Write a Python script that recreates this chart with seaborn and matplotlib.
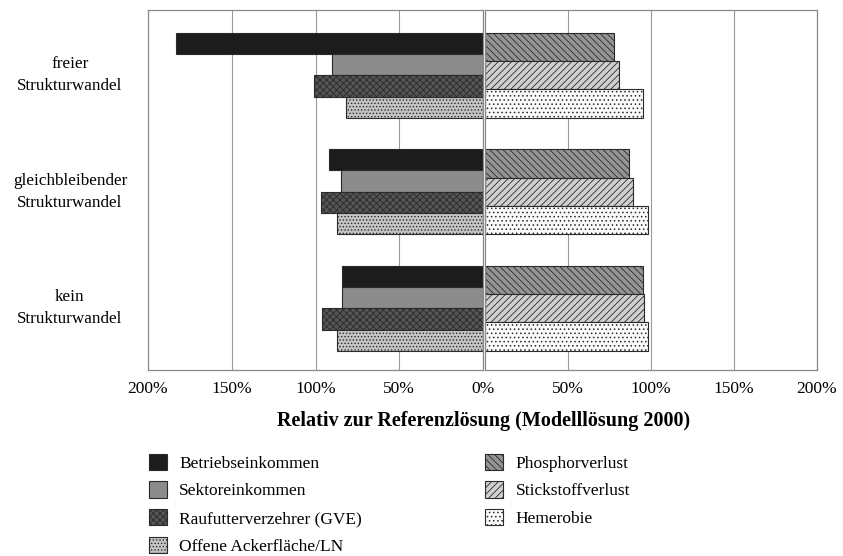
import pandas as pd
import matplotlib.pyplot as plt
import seaborn as sns
from matplotlib.patches import Patch

# scenarios (rows) and the two indicator groups
szenarien = ['freier\nStrukturwandel', 'gleichbleibender\nStrukturwandel', 'kein\nStrukturwandel']
oekonomie = ['Betriebseinkommen', 'Sektoreinkommen', 'Raufutterverzehrer (GVE)', 'Offene Ackerfläche/LN']
oekologie = ['Phosphorverlust', 'Stickstoffverlust', 'Hemerobie']

# values in % relative to reference solution, one list per indicator
betriebseinkommen = [183, 92, 84]
sektoreinkommen = [90, 85, 84]
raufutter = [101, 97, 96]
ackerflaeche = [82, 87, 87]
phosphor = [78, 87, 95]
stickstoff = [81, 89, 96]
hemerobie = [95, 98, 98]

ticks_links = [200, 150, 100, 50, 0]
ticks_rechts = [50, 100, 150, 200]

df_l = pd.DataFrame({
    'szenario': szenarien * 4,
    'indikator': [i for i in oekonomie for _ in szenarien],
    'wert': betriebseinkommen + sektoreinkommen + raufutter + ackerflaeche})
df_r = pd.DataFrame({
    'szenario': szenarien * 3,
    'indikator': [i for i in oekologie for _ in szenarien],
    'wert': phosphor + stickstoff + hemerobie})

# (facecolor, hatch) per indicator
stil_l = [('#1c1c1c', ''), ('#8c8c8c', ''), ('#555555', 'xxxxx'), ('#c4c4c4', '.....')]
stil_r = [('#949494', '\\\\\\\\\\'), ('#d0d0d0', '/////'), ('#fafafa', '....')]

serif = 'Liberation Serif'
plt.rcParams['hatch.linewidth'] = 0.6
plt.rcParams['font.family'] = serif

fig = plt.figure(figsize=(8.43, 5.56), dpi=100)
fig.patch.set_facecolor('white')
axL = fig.add_axes([148/843, 1-370/556, 335/843, 360/556])
axR = fig.add_axes([485/843, 1-370/556, 332/843, 360/556])

sns.barplot(data=df_l, y='szenario', x='wert', hue='indikator', orient='h', width=0.73,
            ax=axL, palette=['#888']*4, legend=False, saturation=1)
sns.barplot(data=df_r, y='szenario', x='wert', hue='indikator', orient='h', width=0.73,
            ax=axR, palette=['#888']*3, legend=False, saturation=1)

for ax, stile in [(axL, stil_l), (axR, stil_r)]:
    for cont, (fc, h) in zip(ax.containers, stile):
        for p in cont:
            p.set_facecolor(fc)
            p.set_hatch(h)
            p.set_edgecolor('#2a2a2a')
            p.set_linewidth(0.8)
    ax.set_ylim(2.53, -0.56)
    ax.set_xlabel('')
    ax.set_ylabel('')
    ax.set_facecolor('white')
    for s in ax.spines.values():
        s.set_color('#8a8a8a')
        s.set_linewidth(0.9)
    ax.tick_params(axis='both', length=0, labelsize=12.5)
    ax.grid(axis='x', color='#9a9a9a', linewidth=0.8)
    ax.set_axisbelow(True)

axL.set_xlim(200, 0)
axR.set_xlim(0, 200)
axL.set_xticks(ticks_links)
axL.set_xticklabels([f'{t}%' for t in ticks_links], family=serif)
axR.set_xticks(ticks_rechts)
axR.set_xticklabels([f'{t}%' for t in ticks_rechts], family=serif)
axL.set_yticks(range(3))
axL.set_yticklabels([])
axR.set_yticks([])
for i, s in enumerate(szenarien):
    axL.text(-0.233, i, s, transform=axL.get_yaxis_transform(), ha='center', va='center',
             fontsize=12.3, family=serif, linespacing=1.5)
axL.tick_params(axis='x', pad=8)
axR.tick_params(axis='x', pad=8)

fig.text(484/843, 1-421/556, 'Relativ zur Referenzlösung (Modelllösung 2000)', ha='center',
         va='center', fontsize=14.5, fontweight='bold', family=serif)

handles = [Patch(facecolor=fc, hatch=h, edgecolor='#2a2a2a', linewidth=0.8, label=n)
           for n, (fc, h) in zip(oekonomie + oekologie, stil_l + stil_r)]
fig.legend(handles=handles, ncol=2, loc='upper left', bbox_to_anchor=(133/843, 1-438/556),
           frameon=False, prop={'family': serif, 'size': 12.5}, handlelength=1.05,
           handleheight=1.05, handletextpad=0.7, labelspacing=0.57, columnspacing=7.1)

fig.savefig('out.png', dpi=100, facecolor='white')
